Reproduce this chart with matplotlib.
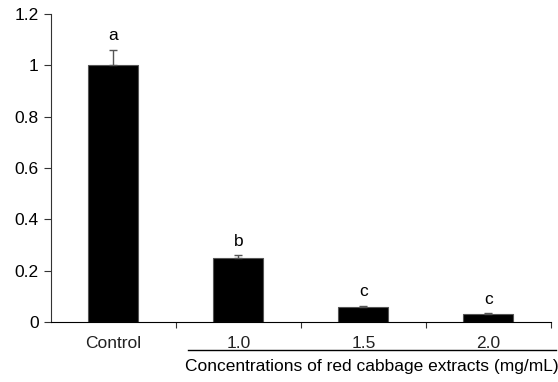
import numpy as np
import matplotlib.pyplot as plt
from matplotlib.transforms import blended_transform_factory

plt.rcParams['font.family'] = ['Liberation Sans', 'DejaVu Sans']

# Data
categories = ['Control', '1.0', '1.5', '2.0']
values = [1.0, 0.25, 0.06, 0.03]
errors = [0.06, 0.01, 0.004, 0.004]
letters = ['a', 'b', 'c', 'c']

fs = 12.5

fig = plt.figure(figsize=(5.58, 3.82), dpi=100)
ax = fig.add_axes([0.0914, 0.157, 0.896, 0.806])

x = np.arange(len(categories))
ax.bar(x, values, width=0.4, color='black', edgecolor='#555555', linewidth=0.8, zorder=2)
ax.errorbar(x, values, yerr=[np.zeros(len(errors)), errors], fmt='none',
            ecolor='#555555', elinewidth=1, capsize=3, capthick=1, zorder=3)

for xi, v, e, lab in zip(x, values, errors, letters):
    ax.text(xi, v + e + 0.055, lab, ha='center', va='center', fontsize=fs)

ax.set_xlim(-0.5, 3.5)
ax.set_ylim(0, 1.2)
ax.set_yticks([0, 0.2, 0.4, 0.6, 0.8, 1.0, 1.2])
ax.set_yticklabels(['0', '0.2', '0.4', '0.6', '0.8', '1', '1.2'], fontsize=fs)

# category labels, ticks placed between categories
ax.set_xticks([0.5, 1.5, 2.5, 3.5])
ax.set_xticklabels([])
ax.set_xticks(x, minor=True)
ax.set_xticklabels(categories, minor=True, fontsize=fs, color='#222222')
ax.tick_params(axis='x', which='minor', length=0, pad=10)
ax.tick_params(axis='x', which='major', length=4, direction='out', color='#333333')
ax.tick_params(axis='y', length=5, direction='out', color='#333333', pad=4)

for s in ['top', 'right']:
    ax.spines[s].set_visible(False)
ax.spines['left'].set_color('#333333')
ax.spines['bottom'].set_color('black')

# grouping line and label under the concentration categories
trans = blended_transform_factory(ax.transData, ax.transAxes)
ax.plot([0.6, 3.54], [-0.091, -0.091], color='black', linewidth=1,
        transform=trans, clip_on=False)
ax.text(2.07, -0.143, 'Concentrations of red cabbage extracts (mg/mL)',
        transform=trans, ha='center', va='center', fontsize=fs)

fig.savefig('out.png', dpi=100)
